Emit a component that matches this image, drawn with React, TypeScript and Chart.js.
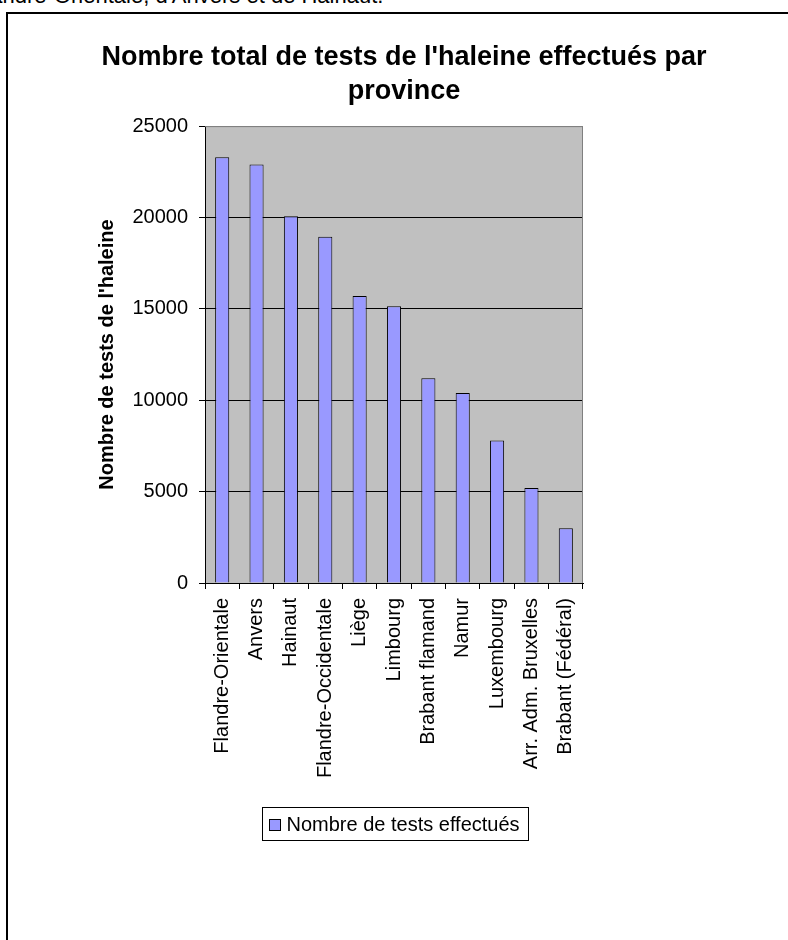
import React, { useEffect, useRef } from "react";
import { Chart, registerables } from "chart.js";

Chart.register(...registerables);

const categories = [
  "Flandre-Orientale",
  "Anvers",
  "Hainaut",
  "Flandre-Occidentale",
  "Liège",
  "Limbourg",
  "Brabant flamand",
  "Namur",
  "Luxembourg",
  "Arr. Adm. Bruxelles",
  "Brabant (Fédéral)",
];
const testsValues = [23300, 22900, 20070, 18950, 15700, 15150, 11200, 10400, 7800, 5200, 3000];
const yTicks = [0, 5000, 10000, 15000, 20000, 25000];
const seriesLabel = "Nombre de tests effectués";
const titleLines = ["Nombre total de tests de l'haleine effectués par", "province"];
const yAxisTitle = "Nombre de tests de l'haleine";
const topText = "Flandre-Orientale, d'Anvers et de Hainaut.";

const FONT = '"Liberation Sans", Arial, Helvetica, sans-serif';

const plotBg = {
  id: "plotBg",
  beforeDraw(chart: any) {
    const { ctx, chartArea: a } = chart;
    ctx.save();
    ctx.fillStyle = "#C0C0C0";
    ctx.fillRect(a.left, a.top, a.right - a.left, a.bottom - a.top);
    ctx.restore();
  },
  beforeDatasetsDraw(chart: any) {
    const { ctx, chartArea: a } = chart;
    ctx.save();
    ctx.strokeStyle = "#808080";
    ctx.lineWidth = 1;
    ctx.beginPath();
    ctx.moveTo(a.left, a.top + 0.5);
    ctx.lineTo(a.right - 0.5, a.top + 0.5);
    ctx.lineTo(a.right - 0.5, a.bottom);
    ctx.stroke();
    ctx.restore();
  },
};

const boxLegend = {
  id: "boxLegend",
  afterDraw(chart: any) {
    const ctx = chart.ctx;
    const ds = chart.data.datasets[0];
    ctx.save();
    ctx.font = `20px ${FONT}`;
    const tw = ctx.measureText(ds.label).width;
    const sq = 11, padL = 7, gap = 6, padR = 9, h = 33;
    const w = Math.round(padL + sq + gap + tw + padR);
    const x = Math.round(386.5 - w / 2) + 0.5;
    const y = 793.5;
    ctx.fillStyle = "#fff";
    ctx.fillRect(x, y, w, h);
    ctx.strokeStyle = "#000";
    ctx.lineWidth = 1;
    ctx.strokeRect(x, y, w, h);
    const sy = Math.round(y + h / 2 - sq / 2) + 0.5;
    ctx.fillStyle = ds.backgroundColor;
    ctx.fillRect(x + padL, sy, sq, sq);
    ctx.strokeRect(x + padL, sy, sq, sq);
    ctx.fillStyle = "#000";
    ctx.textBaseline = "middle";
    ctx.textAlign = "left";
    ctx.fillText(ds.label, x + padL + sq + gap, y + h / 2 + 1);
    ctx.restore();
  },
};

export default function App() {
  const ref = useRef<HTMLCanvasElement>(null);

  useEffect(() => {
    const chart = new Chart(ref.current as HTMLCanvasElement, {
      type: "bar",
      data: {
        labels: categories,
        datasets: [
          {
            label: seriesLabel,
            data: testsValues,
            backgroundColor: "#9999FF",
            borderColor: "#000000",
            borderWidth: 1,
            barPercentage: 0.41,
            categoryPercentage: 1,
          },
        ],
      },
      options: {
        responsive: false,
        animation: false,
        devicePixelRatio: 1,
        layout: { padding: { left: 0, right: 0, top: 0, bottom: 157 } },
        plugins: {
          legend: { display: false },
          tooltip: { enabled: false },
          title: {
            display: true,
            text: titleLines,
            color: "#000",
            font: { family: FONT, size: 27, weight: "bold", lineHeight: 1.28 },
            padding: { top: 26, bottom: 17 },
          },
        },
        scales: {
          x: {
            offset: true,
            grid: {
              offset: true,
              drawOnChartArea: false,
              drawTicks: true,
              tickLength: 6,
              tickColor: "#000",
              color: "#000",
            },
            border: { display: true, color: "#000", width: 1 },
            ticks: {
              autoSkip: false,
              maxRotation: 90,
              minRotation: 90,
              padding: 9,
              color: "#000",
              font: { family: FONT, size: 20 },
            },
            afterFit(s: any) {
              s.height = 200;
            },
          },
          y: {
            min: 0,
            max: 25000,
            afterBuildTicks(s: any) {
              s.ticks = yTicks.map((v) => ({ value: v }));
            },
            grid: {
              color: (c: any) => (c.tick && c.tick.value === 25000 ? "#808080" : "#000"),
              lineWidth: 1,
              drawTicks: true,
              tickLength: 6,
              tickColor: "#000",
            },
            border: { display: true, color: "#000", width: 1 },
            ticks: {
              padding: 11,
              color: "#000",
              font: { family: FONT, size: 20 },
              callback: (v: any) => String(v),
            },
            title: {
              display: true,
              text: yAxisTitle,
              color: "#000",
              font: { family: FONT, size: 20, weight: "bold", lineHeight: 1.2 },
              padding: { top: 87, bottom: 0 },
            },
            afterFit(s: any) {
              s.width = 197;
            },
          },
          yRight: {
            type: "linear",
            position: "right",
            display: true,
            grid: { display: false, drawTicks: false },
            border: { display: false },
            ticks: { display: false },
            afterFit(s: any) {
              s.width = 217;
            },
          },
        },
      } as any,
      plugins: [plotBg, boxLegend],
    });
    return () => chart.destroy();
  }, []);

  return (
    <div style={{ position: "fixed", inset: 0, overflow: "hidden", background: "#fff" }}>
      <div
        style={{
          position: "absolute",
          left: -28,
          top: -15,
          whiteSpace: "nowrap",
          fontFamily: FONT,
          fontSize: 22,
          lineHeight: "22px",
          color: "#000",
        }}
      >
        {topText}
      </div>
      <div
        style={{
          position: "absolute",
          left: 6,
          top: 12,
          borderTop: "2px solid #000",
          borderLeft: "2px solid #000",
          width: 792,
          height: 926,
        }}
      >
        <canvas ref={ref} width={792} height={926} style={{ display: "block", width: 792, height: 926 }} />
      </div>
    </div>
  );
}
